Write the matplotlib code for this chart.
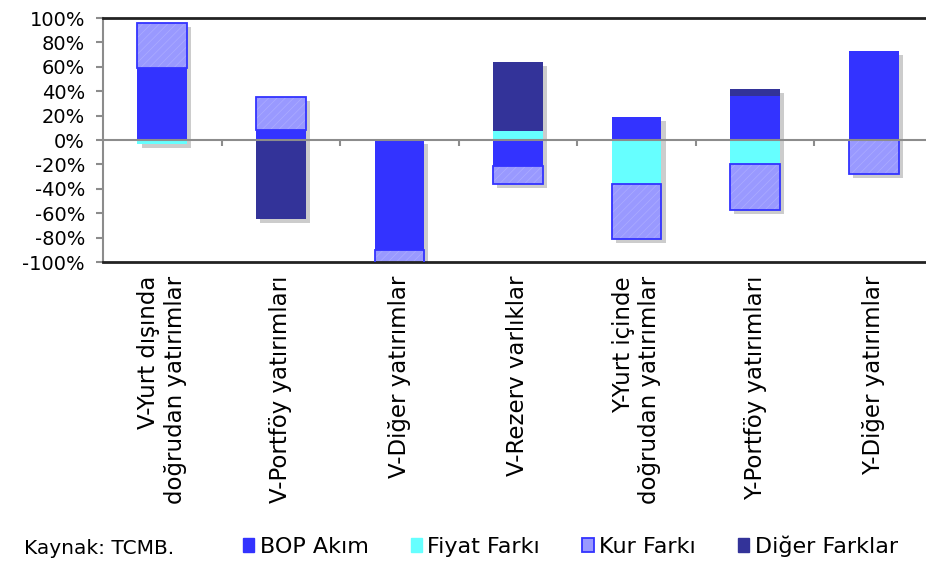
import matplotlib
matplotlib.use("Agg")
import matplotlib.pyplot as plt
import matplotlib.patheffects as pe
from matplotlib.patches import Patch
import numpy as np

plt.rcParams['font.family'] = ['DejaVu Sans']
plt.rcParams['hatch.linewidth'] = 0.5

# data (% share)
categories = ["V-Yurt dışında\ndoğrudan yatırımlar", "V-Portföy yatırımları",
              "V-Diğer yatırımlar", "V-Rezerv varlıklar",
              "Y-Yurt içinde\ndoğrudan yatırımlar", "Y-Portföy yatırımları",
              "Y-Diğer yatırımlar"]
bop_akim = [59, 8, -90, -21, 19, 36, 73]
fiyat_farki = [-3, 0, 0, 7, -36, -20, 0]
kur_farki = [37, 27, -12, -15, -45, -37, -28]
diger_farklar = [0, -65, 0, 57, 0, 6, 0]
yticks = [-100, -80, -60, -40, -20, 0, 20, 40, 60, 80, 100]

series = [
    ("BOP Akım", bop_akim, "#3333FF"),
    ("Fiyat Farkı", fiyat_farki, "#66FFFF"),
    ("Kur Farkı", kur_farki, "#9999FF"),
    ("Diğer Farklar", diger_farklar, "#333399"),
]

fig = plt.figure(figsize=(9.26, 5.61), dpi=100)
ax = fig.add_axes([103/926, 1-262/561, 830/926, 244/561])

x = np.arange(len(categories))
w = 0.42

# soft drop shadow behind each stacked bar
vals = np.array([s[1] for s in series])
pos_tot = np.where(vals > 0, vals, 0).sum(axis=0)
neg_tot = np.where(vals < 0, vals, 0).sum(axis=0)
shadow = [pe.SimplePatchShadow(offset=(3, -3), shadow_rgbFace="black", alpha=0.2)]
for tot in (pos_tot, neg_tot):
    b = ax.bar(x, tot, w, color="black", linewidth=0, zorder=1)
    for p in b:
        p.set_path_effects(shadow)

pos_base = np.zeros(len(categories))
neg_base = np.zeros(len(categories))
for name, v, col in series:
    v = np.array(v, dtype=float)
    base = np.where(v >= 0, pos_base, neg_base)
    if name == "Kur Farkı":
        ax.bar(x, v, w, bottom=base, facecolor=col, edgecolor="#ABABFF",
               hatch="////", linewidth=0, zorder=2)
        ax.bar(x, v, w, bottom=base, facecolor="none", edgecolor="#3333FF",
               linewidth=1.3, zorder=3)
    else:
        ax.bar(x, v, w, bottom=base, color=col, linewidth=0, zorder=2)
    pos_base += np.where(v > 0, v, 0)
    neg_base += np.where(v < 0, v, 0)

# zero axis with category tick marks
ax.axhline(0, color="#8C8C8C", linewidth=1.5, zorder=4)
ax.vlines(x[:-1] + 0.5, -5, 0, color="#8C8C8C", linewidth=1.5, zorder=4)

ax.set_xlim(-0.5, len(categories) - 0.5)
ax.set_ylim(-100, 100)
ax.set_yticks(yticks)
ax.set_yticklabels([f"{t}%" for t in yticks], fontsize=14)
ax.tick_params(axis="y", color="#8C8C8C", length=5, width=1.5, pad=8)

ax.set_xticks(x)
ax.set_xticklabels(categories, rotation=90, fontsize=16.5, ha="center", va="top",
                   multialignment="right", linespacing=1.2)
ax.tick_params(axis="x", length=0, pad=10)

for s in ("top", "bottom"):
    ax.spines[s].set_color("#222222")
    ax.spines[s].set_linewidth(2)
ax.spines["left"].set_color("#8C8C8C")
ax.spines["left"].set_linewidth(1.5)
ax.spines["right"].set_visible(False)

fig.text(24/926, 1-548/561, "Kaynak: TCMB.", fontsize=14.5, va="center", ha="left")

handles = [
    Patch(facecolor="#3333FF", edgecolor="#3333FF"),
    Patch(facecolor="#66FFFF", edgecolor="#66FFFF"),
    Patch(facecolor="#9999FF", edgecolor="#3333FF", linewidth=1.3),
    Patch(facecolor="#333399", edgecolor="#333399"),
]
fig.legend(handles, [s[0] for s in series], loc="center left",
           bbox_to_anchor=(243/926, 1-546/561), ncol=4, frameon=False,
           fontsize=16, handlelength=0.5, handleheight=0.65, handletextpad=0.25,
           columnspacing=1.9, borderpad=0, borderaxespad=0)

fig.savefig("out.png", dpi=100)
